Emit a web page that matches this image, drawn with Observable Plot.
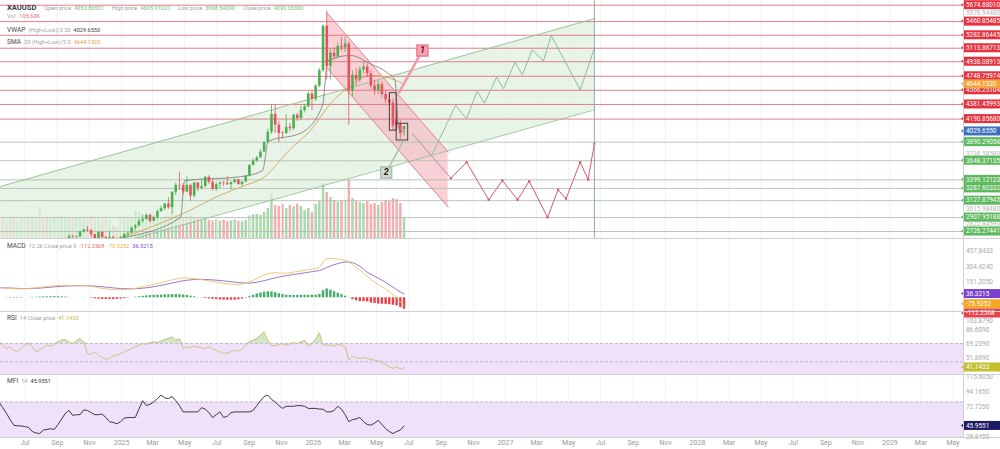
<!DOCTYPE html>
<html><head><meta charset="utf-8">
<script src="https://cdn.jsdelivr.net/npm/d3@7"></script>
<script src="https://cdn.jsdelivr.net/npm/@observablehq/plot@0.6"></script>
<style>
html,body{margin:0;padding:0;background:#fff;}
#wrap{position:relative;width:1000px;height:449px;overflow:hidden;font-family:Roboto,"Open Sans",sans-serif;}
.layer{position:absolute;left:0;}
.layer svg{display:block;}
.row{position:absolute;left:7px;display:flex;align-items:baseline;gap:3px;white-space:nowrap;font-size:5.6px;color:#a0a0a0;line-height:1;z-index:5;}
.row .n{color:#4a4a4a;font-size:6.6px;}
.sep{position:absolute;left:0;width:1000px;height:1px;background:#d0d0d0;z-index:4;}
.vax{position:absolute;left:963px;top:0;width:1px;height:437px;background:#d0d0d0;z-index:4}
</style></head>
<body><div id="wrap"></div>
<script>
// ---------------- DATA ----------------
const firstWeek = "2024-05-13";            // weekly bars, index 0
const volumeK = [95,100,92,105,98,88,96, 100,96,104,98,152,100,108,96,102, 98,110,104,96,100, 102,98,108,104,
  112,106,100,96, 96,90,62,56,92, 100,98,104,140, 132,106,110,104, 108,112,104,110, 112,135,120,108,104,
  108,112,100,96, 98,104,92,88, 94,86,90,84,88, 92,86,84,90, 112,118,120,115, 130,150,225,165,
  160,170,150,165, 158,172,160,140,150, 130,170,185,275,230, 205,190,180,185,190, 290,200,185,180,175,
  185,170,175,165,180, 190,185,200,195,175,105.6];
const earlyVolumeDir = "rrgrrgggrgrgrrggg"; // bar colours before the first visible candle
const candleFirstIndex = 17;
const opens = [2497,2578,2622,2658,2653,2657,2721,2747,2736,2685,
  2563,2715,2650,2633,2648,2622,2621,2640,2690,2703,
  2770,2800,2861,2883,2936,2858,2910,2984,3023,3085,
  3037,3237,3327,3319,3240,3325,3187,3357,3289,3310,
  3433,3368,3274,3337,3355,3350,3337,3363,3398,3336,
  3371,3448,3586,3643,3685,3760,3886,4018,4252,4113,
  4002,4000,4084,4065,4240,4198,4300,4350,4520,4450,
  4620,4820,5400,4880,5050,5000,5140,5120,5170,4560,
  4760,4700,4830,4870,4780,4620,4560,4640,4510,4440,
  4400,4180,4120,4053.87];
const highs = [2586,2626,2686,2672,2666,2723,2759,2790,2750,2687,
  2721,2722,2657,2726,2665,2638,2665,2697,2725,2786,
  2817,2886,2942,2955,2956,2930,3005,3057,3087,3168,
  3245,3358,3500,3351,3435,3345,3366,3365,3403,3446,
  3452,3398,3365,3375,3375,3439,3372,3409,3405,3379,
  3453,3599,3674,3707,3791,3897,4059,4379,4381,4161,
  4029,4245,4132,4256,4264,4353,4380,4550,4560,4640,
  4850,5420,5600,5100,5120,5180,5250,5260,5200,4820,
  4850,4870,4930,4910,4820,4700,4690,4680,4560,4520,
  4450,4300,4170,4095.91];
const lows = [2485,2546,2615,2625,2605,2646,2708,2722,2643,2537,
  2563,2605,2614,2632,2583,2602,2596,2633,2656,2702,
  2731,2790,2834,2879,2833,2856,2880,2982,3000,3015,
  2957,3194,3260,3202,3228,3121,3160,3245,3270,3302,
  3340,3255,3247,3283,3310,3324,3268,3352,3331,3312,
  3362,3436,3578,3627,3683,3760,3884,3990,4004,3886,
  3931,3997,4022,4040,4160,4170,4270,4340,4300,4420,
  4600,4800,4700,4700,4960,4980,5080,5060,4110,4480,
  4620,4660,4780,4730,4580,4500,4510,4470,4390,4360,
  4040,4080,3930,3968.54];
const closes = [2578,2622,2658,2653,2657,2721,2747,2736,2685,2563,
  2715,2650,2633,2648,2622,2621,2640,2690,2703,2770,
  2800,2861,2883,2936,2858,2910,2984,3023,3085,3037,
  3237,3327,3319,3240,3325,3187,3357,3289,3310,3433,
  3368,3274,3337,3355,3350,3337,3363,3398,3336,3371,
  3448,3586,3643,3685,3760,3886,4018,4252,4113,4002,
  4000,4084,4065,4240,4198,4300,4350,4520,4450,4620,
  4820,5400,4880,5050,5000,5140,5120,5170,4560,4760,
  4700,4830,4870,4780,4620,4560,4640,4510,4440,4400,
  4100,4120,4000,4090.05];

const smaDates  = ["2024-05-13","2024-09-02","2025-01-06","2025-04-28","2025-07-08","2025-08-25","2025-09-26","2025-11-18","2025-12-27","2026-02-03","2026-03-12","2026-04-19","2026-05-18","2026-06-22"];
const smaValues = [2300,2450,2660,2960,3200,3330,3420,3800,4050,4400,4620,4760,4740,4644.132];
const vwapDates  = ["2024-05-13","2024-09-16","2025-01-01","2025-04-23","2025-05-01","2025-08-15","2025-09-26","2025-10-07","2025-12-08","2026-01-18","2026-01-28","2026-03-12","2026-04-19","2026-05-20","2026-06-05","2026-06-12","2026-06-22"];
const vwapValues = [2330,2560,2640,2910,3390,3440,3520,3900,4010,4370,4950,5020,4910,4800,4690,4060,4029.655];

const resistance = [5674.88010,5460.85485,5282.86445,5113.86713,4938.08913,4748.75974,4566.25104,4381.45993,4190.85680];
const resistanceText = ["5674.88010","5460.85485","5282.86445","5113.86713","4938.08913","4748.75974","4566.25104","4381.45993","4190.85680"];
const support = [3890.29058,3648.37135,3399.12123,3287.60332,3127.87945,2907.95188,2726.27441];
const supportText = ["3890.29058","3648.37135","3399.12123","3287.60332","3127.87945","2907.95188","2726.27441"];
const greyTicks = [5576.94480,3738.58580,3015.98480,2822.84590];
const greyTickText = ["5576.94480","3738.58580","3015.98480","2822.84590"];

const greenChannelDates = ["2024-05-16","2027-06-19"];
const greenChannelUpper = [3313,5500];
const greenChannelLower = [2148,4312];
const redChannelDates = ["2026-01-27","2026-09-14"];
const redChannelUpper = [5571,3760];
const redChannelLower = [4857,3043];
const connectorDates = ["2026-07-08","2026-09-19"];
const connectorPrices = [3999,3421];
const redPathDates = ["2026-09-19","2026-10-19","2026-11-30","2026-12-26","2027-01-24","2027-02-15","2027-03-22","2027-04-11","2027-04-26","2027-05-23","2027-06-07","2027-06-19"];
const redPathPrices = [3421,3629,3139,3391,3139,3382,2912,3270,3152,3629,3404,3869];
const greenPathDates = ["2026-08-15","2026-09-28","2026-10-19","2026-11-08","2026-11-22","2026-12-15","2026-12-28","2027-01-19","2027-02-02","2027-02-21","2027-03-14","2027-03-29","2027-05-23","2027-06-18"];
const greenPathPrices = [3739,4368,4195,4554,4398,4737,4586,4932,4768,5094,4945,5280,4573,5094];
const noteLabels = ["1","2"];
const noteDates = ["2026-07-27","2026-05-19"];
const notePrices = [5085,3495];
const noteTargetDates = ["2026-06-12","2026-06-21"];
const noteTargetPrices = [4528,3911];
const boxStart = ["2026-05-26","2026-06-08"];
const boxEnd = ["2026-06-08","2026-06-30"];
const boxLow = [4040,3912];
const boxHigh = [4528,4130];
const cursorDate = "2027-06-19";

const macdLine = [100,98,95,92,90,88,88,90,92,95, 98,102,106,110,114,118,120,122,122,120,
  118,117,118,120,118,112,104,98,92,88, 84,80,78,78,80,84,88,94,100,108,
  116,124,132,140,148,158,166,176,184,190, 194,194,192,188,184,178,172,166,160,154,
  148,142,138,134,130,130,134,142,156,172, 190,206,222,236,245,246,244,242,242,246,
  252,258,264,270,276,282,288,300,350,384, 387,385,381,375,366,350,326,300,272,244,
  210,180,156,130,108,87,60,30,0,-40, -75.9252];
const signalLine = [98,98,97,96,94,92,91,90,90,91, 93,95,98,101,104,107,110,113,115,117,
  118,118,118,118,118,117,115,112,109,105, 101,97,94,91,89,88,88,89,91,94,
  98,103,109,115,122,129,137,145,153,160, 167,172,176,179,181,181,180,178,176,173,
  170,166,162,158,154,150,147,145,145,148, 153,160,168,177,187,196,204,211,217,223,
  229,234,240,245,251,256,262,268,280,297, 312,325,336,345,351,352,345,330,310,283,
  251,232,212,192,172,152,128,104,80,58, 36.3215];
const macdHist = [2,0,-2,-4,-4,-4,-3,0,2,4, 5,7,8,9,10,11,10,9,7,3,
  0,-1,0,2,0,-5,-11,-14,-17,-17, -17,-17,-16,-13,-9,-4,0,5,9,14,
  18,21,23,25,26,29,29,31,31,30, 27,22,16,9,3,-3,-8,-12,-16,-19,
  -22,-24,-24,-24,-24,-20,-13,-3,11,24, 37,46,54,59,58,50,40,31,25,23,
  23,24,24,25,25,26,26,32,70,87, 75,60,45,30,15,-2,-19,-30,-38,-39,
  -41,-52,-56,-62,-64,-65,-68,-74,-80,-98, -112.2568];
const rsi14 = [72,68,64,66,62,60,64,68,71,66, 60,62,65,68,67,69,72,74,75,72,
  70,73,76,72,58,57,60,56,53,51, 52,55,56,58,60,62,64,66,68,70,
  69,71,72,71,73,75,76,78,74,76, 64,66,65,67,66,65,64,66,64,62,
  60,58,59,60,62,61,63,68,72,74, 76,80,84,74,68,67,69,70,68,70,
  71,70,72,74,67,70,75,83,69,68, 68,67,69,68,66,50,54,53,52,53,
  52,51,50,49,47,45,42,40,42,39, 41.1433];
const mfi14 = [80,72,64,55,47,46,46,45,44,38, 36,35,40,41,42,41,48,56,64,68,
  61,62,62,69,68,65,62,62,63,58, 52,51,49,52,57,58,58,58,70,82,
  75,77,80,85,90,86,85,88,82,75, 66,66,66,66,66,72,70,65,58,62,
  66,58,60,65,66,66,66,66,66,68, 75,82,88,90,84,80,75,71,74,74,
  74,75,75,74,71,71,71,70,70,66, 66,68,74,70,62,52,55,56,58,52,
  48,47,50,54,48,42,38,35,38,40, 45.9551];
const monthAbbr = ["Jan","Feb","Mar","Apr","May","Jun","Jul","Aug","Sep","Oct","Nov","Dec"];

// ---------------- BUILD ----------------
const W = 1000, PR = 963;
const xDomain = [new Date("2024-05-15T17:00:00Z"), new Date("2029-05-20T21:00:00Z")];
const xTicks = d3.utcMonth.range(new Date("2024-07-01T00:00:00Z"), new Date("2029-06-01T00:00:00Z"), 2);
const D = s => new Date(s + (s.length === 10 ? "T00:00:00Z" : ""));
const week0 = D(firstWeek);
const weekDate = i => d3.utcDay.offset(week0, 7 * i);
const GREEN = "#4caf50", RED = "#e5535f";

const candles = opens.map((o, k) => ({date: weekDate(candleFirstIndex + k), o, h: highs[k], l: lows[k], c: closes[k]}));
const vol = volumeK.map((v, i) => {
  let up;
  if (i < candleFirstIndex) up = earlyVolumeDir[i] === "g";
  else { const cd = candles[i - candleFirstIndex]; up = cd.c >= cd.o; }
  return {date: weekDate(i), v, col: up ? "#a9d8ab" : "#f4aeb1"};
});
const series = arr => arr.map((v, i) => ({date: weekDate(i), v}));
const pts = (ds, vs) => ds.map((d, i) => ({date: D(d), v: vs[i]}));

function panel(h, yDomain, marks, opts = {}) {
  return Plot.plot({
    width: W, height: h, marginLeft: 0, marginRight: W - PR, marginTop: 0, marginBottom: opts.mb || 0,
    x: opts.x || {type: "utc", domain: xDomain, axis: null},
    y: {domain: yDomain, axis: null},
    color: {type: "identity"},
    style: Object.assign({background: "transparent", overflow: "visible", fontFamily: "Roboto, sans-serif"}, opts.style || {}),
    marks
  });
}
const wrap = document.getElementById("wrap");
function place(svg, top) {
  const d = document.createElement("div"); d.className = "layer"; d.style.top = top + "px";
  d.appendChild(svg); wrap.appendChild(d); return svg;
}
function sideLabels(plot, items) {
  const sy = plot.scale("y");
  const g = d3.select(plot).append("g").attr("font-family", "Roboto, sans-serif").attr("font-size", 6.4).attr("text-anchor", "start");
  for (const it of items) {
    const y = sy.apply(it.v) + (it.dy || 0);
    if (it.bg) {
      g.append("path").attr("d", `M${PR - 2},${y} L${PR + 1},${y - 2.5} L${PR + 1},${y + 2.5}Z`).attr("fill", it.bg);
      g.append("rect").attr("x", PR + 1).attr("y", y - 4.5).attr("width", W - PR - 1).attr("height", 9).attr("fill", it.bg);
    }
    g.append("text").attr("x", PR + 3).attr("y", y + 2.3).attr("fill", it.fg || "#fff").text(it.t);
  }
}
const grid = Plot.ruleX(xTicks, {stroke: "#efefef", strokeWidth: 0.8});

// volume layer (beneath price layer)
place(panel(238, [0, 1190], [
  Plot.ruleX(vol, {x: "date", y1: 0, y2: "v", stroke: "col", strokeWidth: 2.5})
]), 0);

// main price panel
const mainDomain = [2635, 5736];
const gch = greenChannelDates.map((d, i) => ({date: D(d), lo: greenChannelLower[i], hi: greenChannelUpper[i]}));
const rch = redChannelDates.map((d, i) => ({date: D(d), lo: redChannelLower[i], hi: redChannelUpper[i]}));
const notes = noteLabels.map((t, i) => ({t, date: D(noteDates[i]), v: notePrices[i], td: D(noteTargetDates[i]), tv: noteTargetPrices[i]}));
const boxes = boxStart.map((d, i) => ({x1: D(d), x2: D(boxEnd[i]), y1: boxLow[i], y2: boxHigh[i]}));
const main = place(panel(238, mainDomain, [
  grid,
  Plot.areaY(gch, {x: "date", y1: "lo", y2: "hi", fill: "#dff0df", fillOpacity: 0.75, clip: true}),
  Plot.areaY(rch, {x: "date", y1: "lo", y2: "hi", fill: "#f7bcc4", fillOpacity: 0.7, clip: true}),
  Plot.ruleY(resistance, {stroke: "#e0707f", strokeWidth: 1, strokeOpacity: 0.9}),
  Plot.ruleY(support, {stroke: "#b3bfb3", strokeWidth: 0.9}),
  Plot.line(gch, {x: "date", y: "hi", stroke: "#92c292", strokeWidth: 0.9, clip: true}),
  Plot.line(gch, {x: "date", y: "lo", stroke: "#92c292", strokeWidth: 0.9, clip: true}),
  Plot.line(rch, {x: "date", y: "hi", stroke: "#dc7884", strokeWidth: 0.9, clip: true}),
  Plot.line(rch, {x: "date", y: "lo", stroke: "#dc7884", strokeWidth: 0.9, clip: true}),
  Plot.line(pts(smaDates, smaValues), {x: "date", y: "v", stroke: "#d9a35e", strokeWidth: 0.9, curve: "monotone-x", clip: true}),
  Plot.line(pts(vwapDates, vwapValues), {x: "date", y: "v", stroke: "#777", strokeWidth: 0.8, curve: "monotone-x", clip: true}),
  Plot.ruleX(candles, {x: "date", y1: "l", y2: "h", stroke: d => d.c >= d.o ? GREEN : RED, strokeWidth: 0.8, clip: true}),
  Plot.ruleX(candles, {x: "date", y1: "o", y2: d => Math.abs(d.c - d.o) < 8 ? d.o + 8 : d.c, stroke: d => d.c >= d.o ? GREEN : RED, strokeWidth: 2.6, clip: true}),
  Plot.line(pts(connectorDates, connectorPrices), {x: "date", y: "v", stroke: "#8a8a8a", strokeWidth: 0.8}),
  Plot.line(pts(greenPathDates, greenPathPrices), {x: "date", y: "v", stroke: "#8fbf8f", strokeWidth: 1}),
  Plot.line(pts(redPathDates, redPathPrices), {x: "date", y: "v", stroke: "#e0566a", strokeWidth: 1}),
  Plot.dot(pts(redPathDates, redPathPrices), {x: "date", y: "v", r: 1.2, fill: "#e0566a"}),
  Plot.rect(boxes, {x1: "x1", x2: "x2", y1: "y1", y2: "y2", fill: "none", stroke: "#333", strokeWidth: 0.9}),
  Plot.link(notes, {x1: "date", y1: "v", x2: "td", y2: "tv", stroke: (d) => d.t === "1" ? "#f29aaa" : "#a8c0a8", strokeWidth: (d) => d.t === "1" ? 2.6 : 1.4}),
  Plot.dot(notes, {x: "date", y: "v", symbol: "square", r: 6.2, fill: (d) => d.t === "1" ? "#f4a3b4" : "#d3dcd3", stroke: (d) => d.t === "1" ? "#e77d92" : "#aebcae"}),
  Plot.text(notes, {x: "date", y: "v", text: "t", fill: (d) => d.t === "1" ? "#7a1025" : "#222", fontSize: 9, fontWeight: "bold", fontStyle: "italic"}),
  Plot.ruleX([D(cursorDate)], {stroke: "#7fa498", strokeWidth: 0.9})
]), 0);
sideLabels(main, [
  ...greyTicks.map((v, i) => ({v, t: greyTickText[i], fg: "#b5b5b5"})),
  ...resistance.map((v, i) => ({v, t: resistanceText[i], bg: "#e8313f"})),
  ...support.map((v, i) => ({v, t: supportText[i], bg: "#5cb85c"})),
  {v: 4644.1320, t: "4644.1320", bg: "#f4a43a"},
  {v: 4029.6550, t: "4029.6550", bg: "#3d6fc0"}
]);

// MACD panel
const hist = series(macdHist);
const macd = place(panel(73, [-135.1, 582.7], [
  grid,
  Plot.ruleX(hist, {x: "date", y1: 0, y2: "v", stroke: d => d.v >= 0 ? "#3fae6a" : "#e8414c", strokeWidth: 2.4}),
  Plot.line(series(signalLine), {x: "date", y: "v", stroke: "#8a68c8", strokeWidth: 0.9, curve: "monotone-x"}),
  Plot.line(series(macdLine), {x: "date", y: "v", stroke: "#f2c06a", strokeWidth: 0.9, curve: "monotone-x"})
]), 238);
sideLabels(macd, [
  {v: 457.8433, t: "457.8433", fg: "#a8a8a8"}, {v: 304.4240, t: "304.4240", fg: "#a8a8a8"}, {v: 151.2050, t: "151.2050", fg: "#a8a8a8"},
  {v: 36.3215, t: "36.3215", bg: "#7c3fd0"},
  {v: -75.9252, t: "-75.9252", bg: "#f5a623", dy: -1.2},
  {v: -112.2568, t: "-112.2568", bg: "#e8414c", dy: 4.3}
]);

// RSI panel
const rsiS = series(rsi14);
const rsi = place(panel(63, [32.7, 108.7], [
  grid,
  Plot.rect([0], {x1: () => xDomain[0], x2: () => xDomain[1], y1: 30, y2: 70, fill: "#efe1fa", clip: true}),
  Plot.areaY(rsiS, {x: "date", y1: 70, y2: d => Math.max(70, d.v), fill: "#cfe8c8", curve: "linear"}),
  Plot.ruleY([70, 48], {stroke: "#b9a8c9", strokeDasharray: "3,2", strokeWidth: 0.8}),
  Plot.line(rsiS, {x: "date", y: "v", stroke: "#cbbd6c", strokeWidth: 0.9})
]), 311);
sideLabels(rsi, [
  {v: 103.8790, t: "103.8790", fg: "#a8a8a8", dy: 5.5}, {v: 86.6090, t: "86.6090", fg: "#a8a8a8"},
  {v: 69.2390, t: "69.2390", fg: "#a8a8a8"}, {v: 51.8690, t: "51.8690", fg: "#a8a8a8"},
  {v: 41.1433, t: "41.1433", bg: "#c5be2c"}
]);

// MFI panel with the time axis
const mfiS = series(mfi14);
const mfi = place(panel(75, [29.44, 119.4], [
  grid,
  Plot.rect([0], {x1: () => xDomain[0], x2: () => xDomain[1], y1: 20, y2: 80, fill: "#efe1fa", clip: true}),
  Plot.ruleY([80], {stroke: "#b9a8c9", strokeDasharray: "3,2", strokeWidth: 0.8}),
  Plot.line(mfiS, {x: "date", y: "v", stroke: "#3a3a3a", strokeWidth: 1})
], {mb: 12,
    x: {type: "utc", domain: xDomain, ticks: xTicks, tickSize: 0, tickPadding: 3, label: null,
        tickFormat: d => d.getUTCMonth() === 0 ? String(d.getUTCFullYear()) : monthAbbr[d.getUTCMonth()]},
    style: {color: "#9a9a9a", fontSize: "7px"}}), 374);
sideLabels(mfi, [
  {v: 115.6050, t: "115.6050", fg: "#a8a8a8"}, {v: 94.1650, t: "94.1650", fg: "#a8a8a8"},
  {v: 72.7250, t: "72.7250", fg: "#a8a8a8"}, {v: 29.8450, t: "29.8450", fg: "#a8a8a8"},
  {v: 45.9551, t: "45.9551", bg: "#1e1a66"}
]);

// separators & legends
[238, 311, 374, 437].forEach(t => { const s = document.createElement("div"); s.className = "sep"; s.style.top = t + "px"; wrap.appendChild(s); });
const vx = document.createElement("div"); vx.className = "vax"; wrap.appendChild(vx);
function row(top, html) { const r = document.createElement("div"); r.className = "row"; r.style.top = top + "px"; r.innerHTML = html; wrap.appendChild(r); }
const G = v => `<span style="color:#76c07a">${v}</span>`;
row(4, `<span class="n" style="font-weight:700;font-size:7.6px;color:#3b3b3b;margin-right:5px">XAUUSD</span><span>Open price</span>${G("4053.86501")}<span style="margin-left:5px">High price</span>${G("4095.91020")}<span style="margin-left:5px">Low price</span>${G("3968.54090")}<span style="margin-left:5px">Close price</span>${G("4090.05300")}`);
row(14, `<span>Vol:</span><span style="color:#e06a6a">105.60K</span>`);
row(27, `<span class="n">VWAP</span><span>(High+Low)/2 20</span><span style="color:#444">4029.6550</span>`);
row(39, `<span class="n">SMA</span><span>20 (High+Low)/2 0</span><span style="color:#e6a24a">4644.1320</span>`);
row(243, `<span class="n">MACD</span><span>12 26 Close price 9</span><span style="color:#ec6a72">-112.2568</span><span style="color:#f2b24a">-75.9252</span><span style="color:#7a4ccc">36.3215</span>`);
row(315, `<span class="n">RSI</span><span>14 Close price</span><span style="color:#c3b93a">41.1433</span>`);
row(378, `<span class="n">MFI</span><span>14</span><span style="color:#333">45.9551</span>`);
</script>
</body></html>
